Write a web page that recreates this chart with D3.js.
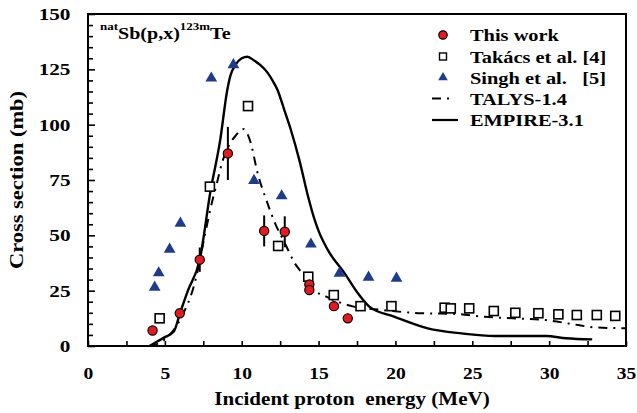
<!DOCTYPE html>
<html>
<head>
<meta charset="utf-8">
<script src="https://cdn.jsdelivr.net/npm/d3@7"></script>
<style>
  html, body { margin: 0; padding: 0; background: #fff; }
  svg text { font-family: "Liberation Serif", "Times New Roman", serif !important; font-weight: bold; fill: #000; white-space: pre; }
</style>
</head>
<body>
<svg id="chart" width="637" height="413"></svg>
<script>
// natSb(p,x)123mTe excitation function

// --- data ---
const thisWorkE   = [4.2, 5.97, 7.27, 9.1, 11.46, 12.8, 14.4, 14.4, 16.0, 16.9];
const thisWorkXS  = [7.0, 14.8, 39, 87, 52, 51.6, 27.8, 25.3, 18, 12.5];
const thisWorkErr = [0, 1, 5.5, 12, 7, 7, 1.5, 1.5, 0, 0];

const takacsE  = [4.66, 7.93, 10.41, 12.37, 14.33, 15.99, 17.73, 19.74, 23.2, 23.6, 24.8, 26.4, 27.8, 29.3, 30.6, 31.8, 33.1, 34.3];
const takacsXS = [12.5, 72, 108.4, 45.2, 31.3, 23, 18, 18, 17.3, 17, 17, 15.8, 15, 14.8, 14.3, 14, 14, 13.6];

const singhE  = [4.34, 4.6, 5.31, 6.01, 8.02, 9.46, 10.8, 12.6, 14.5, 16.36, 18.25, 20.07];
const singhXS = [26.5, 33, 43.7, 55.4, 121, 127, 74.7, 67.8, 46, 32.8, 31, 30.6];

const talysE  = [4.0, 5.0, 6.0, 7.0, 7.6, 8.0, 8.4, 8.73, 9.2, 9.6, 10.1, 10.6, 11.0, 11.6, 12.2, 12.77, 13.4, 14.07, 14.4, 15.5, 17.3, 19.1, 21.7, 23.9, 25.8, 27.6, 29.8, 31.5, 33.0, 35.0];
const talysXS = [0, 3, 12, 30, 50, 63, 74, 83, 91, 95, 98, 91.5, 79, 66, 55, 47, 38, 31.3, 27, 22.3, 17.8, 16.3, 14.8, 14.5, 13.2, 12.5, 11.7, 9.9, 8.4, 8];

const empireE  = [4.0, 4.5, 5.0, 5.58, 5.97, 6.5, 7.27, 7.97, 8.6, 9.06, 9.28, 9.6, 10.0, 10.37, 10.8, 11.2, 11.68, 12.0, 12.33, 12.8, 13.2, 13.75, 14.3, 14.7, 15.0, 15.6, 16.7, 17.56, 18.3, 19.95, 22.1, 24.3, 26.5, 28.5, 29.8, 31.1, 32.8];
const empireXS = [0, 2, 4, 6.5, 14.5, 25, 39, 70, 93, 115.7, 122.5, 127, 130, 130.7, 129, 127, 123.5, 120, 115.7, 106, 97.6, 84, 68, 58, 52, 43.4, 32.8, 23.8, 17.8, 13.2, 8, 5.7, 4.5, 4.5, 4.5, 3.5, 3];

const xTicks = d3.range(0, 35.01, 2.5);
const yTicks = d3.range(0, 150.01, 5);

const legendLabels = ['This work', 'Takács et al. [4]', 'Singh et al.   [5]', 'TALYS-1.4', 'EMPIRE-3.1'];

(function chart(){
  const svg = d3.select('#chart');
  const left = 88, right = 626, top = 14, bottom = 346;
  const serif = '"Liberation Serif", "Times New Roman", serif';

  const x = d3.scaleLinear().domain([0, 35]).range([left, right]);
  const y = d3.scaleLinear().domain([0, 150]).range([bottom, top]);

  const red = '#e8191e', navy = '#1f3c8c';

  // wide text helper (the figure's lettering is stretched sideways)
  function label(str, tx, ty, size, anchor, rot, k) {
    const g = svg.append('g')
      .attr('transform', `translate(${tx},${ty})${rot ? ` rotate(${rot})` : ''} scale(${k},1)`);
    return g.append('text')
      .attr('text-anchor', anchor || 'start')
      .style('font-family', serif)
      .style('font-size', size + 'px')
      .text(str);
  }

  // x axis (ticks inward)
  const xAxis = svg.append('g')
    .attr('transform', `translate(0,${bottom})`)
    .call(d3.axisBottom(x).tickValues(xTicks).tickSizeInner(-5).tickSizeOuter(0).tickPadding(21)
      .tickFormat(d => d % 5 === 0 ? d : ''));
  xAxis.attr('font-family', null);
  xAxis.select('.domain').remove();
  xAxis.selectAll('line').attr('stroke', '#000').attr('stroke-width', 1.6);
  xAxis.selectAll('text')
    .style('font-family', serif)
    .style('font-size', '17px')
    .attr('transform', 'scale(1.15,1)');

  // y axis: minor ticks every 5, labels every 25
  const yAxis = svg.append('g')
    .attr('transform', `translate(${left},0)`)
    .call(d3.axisLeft(y).tickValues(yTicks).tickSizeInner(-5).tickSizeOuter(0).tickPadding(14)
      .tickFormat(d => d % 25 === 0 ? d : ''));
  yAxis.attr('font-family', null);
  yAxis.select('.domain').remove();
  yAxis.selectAll('line').attr('stroke', '#000').attr('stroke-width', 1.6)
    .attr('x2', d => d % 25 === 0 ? 7 : 5);
  yAxis.selectAll('text')
    .style('font-family', serif)
    .style('font-size', '17px')
    .attr('transform', 'scale(1.25,1)');

  // frame
  svg.append('rect')
    .attr('x', left).attr('y', top)
    .attr('width', right - left).attr('height', bottom - top)
    .attr('fill', 'none').attr('stroke', '#000').attr('stroke-width', 2);

  // axis titles
  label('Incident proton  energy (MeV)', 352, 405, 18, 'middle', 0, 1.17);
  label('Cross section (mb)', 23, 180, 18, 'middle', -90, 1.25);

  // reaction label
  const title = label('', 100, 39, 17, 'start', 0, 1.18);
  title.append('tspan').attr('dy', -9).style('font-size', '11px').text('nat');
  title.append('tspan').attr('dy', 9).text('Sb(p,x)');
  title.append('tspan').attr('dy', -9).style('font-size', '11px').text('123m');
  title.append('tspan').attr('dy', 9).text('Te');

  const plot = svg.append('g');

  // model curves
  const line = d3.line().x(d => x(d[0])).y(d => y(d[1])).curve(d3.curveMonotoneX);

  plot.append('path')
    .datum(d3.zip(empireE, empireXS))
    .attr('d', line)
    .attr('fill', 'none').attr('stroke', '#000').attr('stroke-width', 2.4);

  plot.append('path')
    .datum(d3.zip(talysE, talysXS))
    .attr('d', line)
    .attr('fill', 'none').attr('stroke', '#000').attr('stroke-width', 2)
    .attr('stroke-dasharray', '9,6,2,6');

  // Singh et al. triangles
  const tri = d3.symbol().type(d3.symbolTriangle).size(60);
  plot.selectAll('path.singh')
    .data(d3.zip(singhE, singhXS))
    .join('path')
      .attr('class', 'singh')
      .attr('d', tri)
      .attr('transform', d => `translate(${x(d[0])},${y(d[1])})`)
      .attr('fill', navy);

  // Takács et al. squares
  plot.selectAll('rect.takacs')
    .data(d3.zip(takacsE, takacsXS))
    .join('rect')
      .attr('class', 'takacs')
      .attr('x', d => x(d[0]) - 4.5)
      .attr('y', d => y(d[1]) - 4.5)
      .attr('width', 9).attr('height', 9)
      .attr('fill', '#fff').attr('stroke', '#000').attr('stroke-width', 1.6);

  // This work: error bars + red circles
  const tw = thisWorkE.map((e, i) => ({ e, s: thisWorkXS[i], err: thisWorkErr[i] }));
  plot.selectAll('line.err')
    .data(tw.filter(d => d.err > 0))
    .join('line')
      .attr('class', 'err')
      .attr('x1', d => x(d.e)).attr('x2', d => x(d.e))
      .attr('y1', d => y(d.s - d.err)).attr('y2', d => y(d.s + d.err))
      .attr('stroke', '#000').attr('stroke-width', 2);
  plot.selectAll('circle.tw')
    .data(tw)
    .join('circle')
      .attr('class', 'tw')
      .attr('cx', d => x(d.e)).attr('cy', d => y(d.s))
      .attr('r', 4.6)
      .attr('fill', red).attr('stroke', '#000').attr('stroke-width', 1.2);

  // legend
  const legX = 443, textX = 470;
  const rowY = [35, 56.5, 77.5, 98.5, 120];
  const leg = svg.append('g');

  leg.append('circle').attr('cx', legX).attr('cy', rowY[0]).attr('r', 4.2)
    .attr('fill', red).attr('stroke', '#000').attr('stroke-width', 1.2);
  leg.append('rect').attr('x', legX - 3.5).attr('y', rowY[1] - 3.5).attr('width', 7).attr('height', 7)
    .attr('fill', '#fff').attr('stroke', '#000').attr('stroke-width', 1.4);
  leg.append('path').attr('d', d3.symbol().type(d3.symbolTriangle).size(40))
    .attr('transform', `translate(${legX},${rowY[2]})`).attr('fill', navy);
  leg.append('line').attr('x1', 432).attr('x2', 458).attr('y1', rowY[3]).attr('y2', rowY[3])
    .attr('stroke', '#000').attr('stroke-width', 2).attr('stroke-dasharray', '9,6,2,20');
  leg.append('line').attr('x1', 432).attr('x2', 458).attr('y1', rowY[4]).attr('y2', rowY[4])
    .attr('stroke', '#000').attr('stroke-width', 2.2);

  legendLabels.forEach((t, i) => {
    label(t, textX, rowY[i] + 6, 17, 'start', 0, 1.2);
  });
})();
</script>
</body>
</html>
